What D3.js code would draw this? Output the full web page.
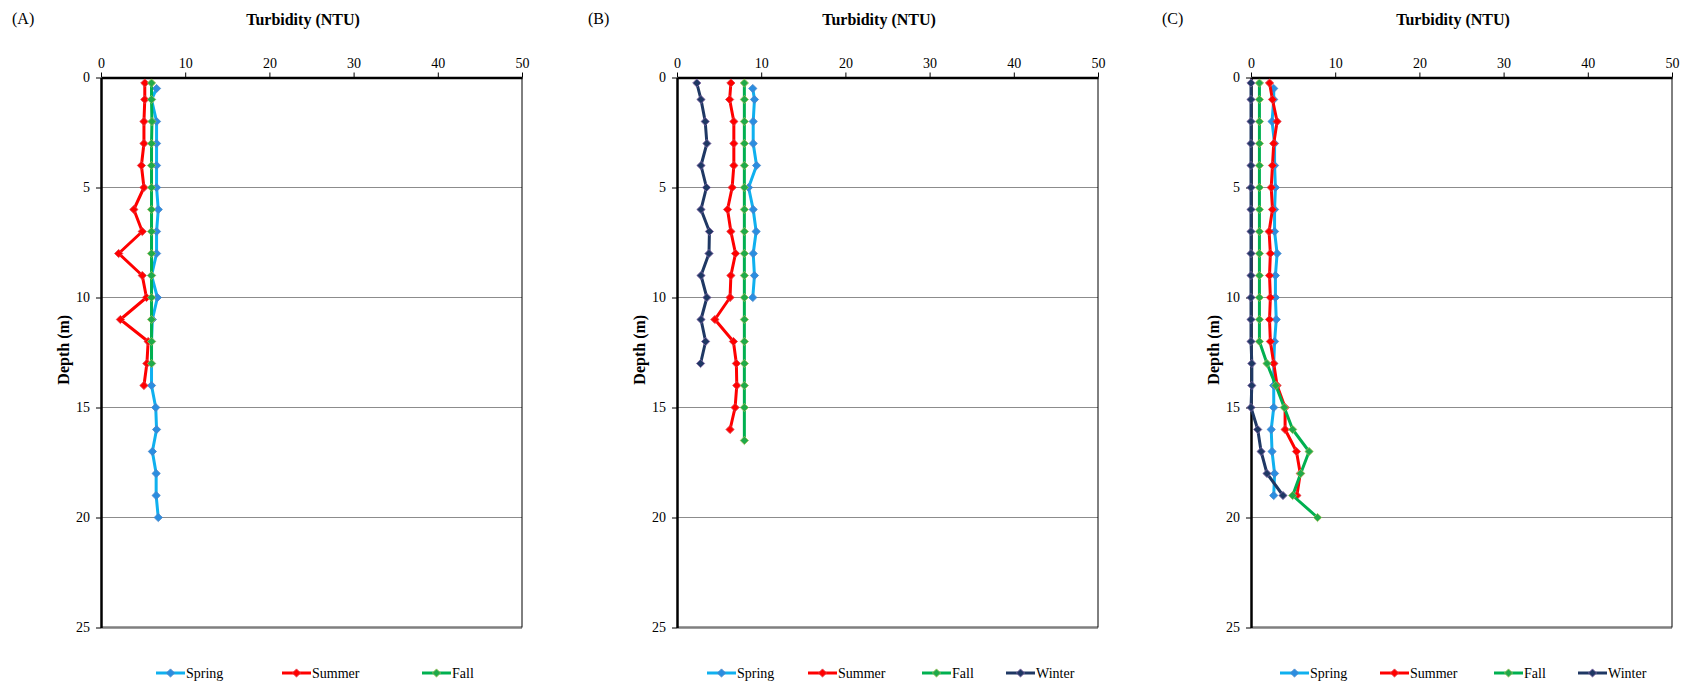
<!DOCTYPE html>
<html>
<head>
<meta charset="utf-8">
<script src="https://cdn.jsdelivr.net/npm/d3@7"></script>
<style>
  body { margin: 0; background: #fff; }
  svg text { font-family: "Liberation Serif", "Times New Roman", Times, "DejaVu Serif", serif !important; fill: #000; }
</style>
</head>
<body>
<div id="chart"></div>
<script>
// ---- data (depth in m, turbidity in NTU) ----
let springDepthA = [0.5, 1, 2, 3, 4, 5, 6, 7, 8, 9, 10, 11, 12, 13, 14, 15, 16, 17, 18, 19, 20];
let springA = [6.6, 6.0, 6.6, 6.6, 6.6, 6.6, 6.8, 6.6, 6.6, 6.0, 6.7, 6.1, 6.0, 6.0, 6.0, 6.5, 6.6, 6.1, 6.55, 6.55, 6.8];
let summerDepthA = [0.25, 1, 2, 3, 4, 5, 6, 7, 8, 9, 10, 11, 12, 13, 14];
let summerA = [5.2, 5.2, 5.1, 5.1, 4.8, 5.1, 3.9, 4.9, 2.1, 4.9, 5.4, 2.3, 5.6, 5.45, 5.1];
let fallDepthA = [0.25, 1, 2, 3, 4, 5, 6, 7, 8, 9, 10, 11, 12, 13];
let fallA = [6.0, 6.0, 6.05, 6.0, 6.0, 6.0, 6.0, 6.0, 6.0, 6.0, 6.0, 6.0, 6.0, 6.0];

let springDepthB = [0.5, 1, 2, 3, 4, 5, 6, 7, 8, 9, 10];
let springB = [9.0, 9.2, 9.05, 9.05, 9.45, 8.5, 9.05, 9.4, 9.05, 9.2, 9.0];
let summerDepthB = [0.25, 1, 2, 3, 4, 5, 6, 7, 8, 9, 10, 11, 12, 13, 14, 15, 16];
let summerB = [6.4, 6.25, 6.75, 6.75, 6.75, 6.55, 6.0, 6.4, 6.95, 6.4, 6.3, 4.5, 6.7, 7.05, 7.1, 6.9, 6.3];
let fallDepthB = [0.25, 1, 2, 3, 4, 5, 6, 7, 8, 9, 10, 11, 12, 13, 14, 15, 16.5];
let fallB = [8.0, 8.0, 8.0, 8.0, 8.0, 8.0, 8.0, 8.0, 8.0, 8.0, 8.0, 8.0, 8.0, 8.0, 8.0, 8.0, 8.0];
let winterDepthB = [0.25, 1, 2, 3, 4, 5, 6, 7, 8, 9, 10, 11, 12, 13];
let winterB = [2.35, 2.85, 3.35, 3.55, 2.85, 3.5, 2.85, 3.85, 3.8, 2.85, 3.55, 2.85, 3.4, 2.8];

let springDepthC = [0.5, 1, 2, 3, 4, 5, 6, 7, 8, 9, 10, 11, 12, 13, 14, 15, 16, 17, 18, 19];
let springC = [2.7, 2.7, 2.5, 2.8, 2.8, 2.9, 2.8, 2.8, 3.1, 2.9, 2.9, 3.0, 2.8, 2.7, 2.7, 2.7, 2.4, 2.5, 2.8, 2.7];
let summerDepthC = [0.25, 1, 2, 3, 4, 5, 6, 7, 8, 9, 10, 11, 12, 13, 14, 15, 16, 17, 18, 19];
let summerC = [2.2, 2.55, 3.1, 2.7, 2.55, 2.4, 2.55, 2.15, 2.3, 2.2, 2.3, 2.2, 2.3, 2.7, 3.1, 4.05, 4.05, 5.4, 5.85, 5.45];
let fallDepthC = [0.25, 1, 2, 3, 4, 5, 6, 7, 8, 9, 10, 11, 12, 13, 14, 15, 16, 17, 18, 19, 20];
let fallC = [1.0, 1.0, 1.0, 1.0, 1.0, 1.0, 1.0, 1.0, 1.0, 1.0, 1.0, 1.0, 1.0, 1.9, 2.95, 3.95, 4.95, 6.9, 5.9, 4.95, 7.9];
let winterDepthC = [0.25, 1, 2, 3, 4, 5, 6, 7, 8, 9, 10, 11, 12, 13, 14, 15, 16, 17, 18, 19];
let winterC = [0, 0, 0, 0, 0, 0, 0, 0, 0, 0, 0, 0, 0, 0.1, 0.1, 0, 0.8, 1.2, 1.9, 3.8];

let xTicks = [0, 10, 20, 30, 40, 50];
let yTicks = [0, 5, 10, 15, 20, 25];
let panelLabels = ["(A)", "(B)", "(C)"];
let xTitle = "Turbidity (NTU)";
let yTitle = "Depth (m)";

let serif = "'Liberation Serif', 'Times New Roman', Times, 'DejaVu Serif', serif";

// season styles
let seasonStyle = {
  Spring: { line: "#0fb0ef", fill: "#2b8de0", stroke: "#4a86c8" },
  Summer: { line: "#ff0000", fill: "#ff0000", stroke: "#e0404a" },
  Fall:   { line: "#00b050", fill: "#1faa4a", stroke: "#9bbb59" },
  Winter: { line: "#1f3864", fill: "#1f3864", stroke: "#7e64a2" }
};

let panels = [
  { label: panelLabels[0], left: 101, legendX: [55, 181, 321], series: [
      { name: "Spring", depth: springDepthA, value: springA },
      { name: "Summer", depth: summerDepthA, value: summerA },
      { name: "Fall", depth: fallDepthA, value: fallA } ] },
  { label: panelLabels[1], left: 677, legendX: [30, 131, 245, 329], series: [
      { name: "Spring", depth: springDepthB, value: springB },
      { name: "Summer", depth: summerDepthB, value: summerB },
      { name: "Fall", depth: fallDepthB, value: fallB },
      { name: "Winter", depth: winterDepthB, value: winterB } ] },
  { label: panelLabels[2], left: 1251, legendX: [29, 129, 243, 327], series: [
      { name: "Spring", depth: springDepthC, value: springC },
      { name: "Summer", depth: summerDepthC, value: summerC },
      { name: "Fall", depth: fallDepthC, value: fallC },
      { name: "Winter", depth: winterDepthC, value: winterC } ] }
];

let svgWidth = 1688;
let svgHeight = 684;
let plotTop = 77.5;
let plotHeight = 550;
let plotWidth = 421;

let svg = d3.select("#chart")
  .append("svg")
  .attr("width", svgWidth)
  .attr("height", svgHeight)
  .attr("font-family", serif);

let diamond = d3.symbol().type(d3.symbolSquare).size(34);

panels.forEach(function(p) {
  let x = d3.scaleLinear().domain([0, 50]).range([0, plotWidth]);
  let y = d3.scaleLinear().domain([0, 25]).range([0, plotHeight]);

  let g = svg.append("g")
    .attr("transform", `translate(${p.left}, ${plotTop})`);

  // panel label and title
  svg.append("text")
    .attr("x", p.left - 89)
    .attr("y", 24)
    .attr("font-family", serif)
    .style("font-size", "16px")
    .text(p.label);

  svg.append("text")
    .attr("x", p.left + 202)
    .attr("y", 24.5)
    .attr("text-anchor", "middle")
    .attr("font-family", serif)
    .style("font-size", "16px")
    .style("font-weight", "bold")
    .text(xTitle);

  // gridlines
  g.selectAll(".grid")
    .data(yTicks.filter(d => d > 0 && d < 25))
    .enter()
    .append("line")
    .attr("x1", 0)
    .attr("x2", plotWidth)
    .attr("y1", d => y(d))
    .attr("y2", d => y(d))
    .attr("stroke", "#8c8c8c")
    .attr("stroke-width", 1);

  // bottom and right border
  g.append("line")
    .attr("x1", 0).attr("x2", plotWidth)
    .attr("y1", plotHeight).attr("y2", plotHeight)
    .attr("stroke", "#7f7f7f")
    .attr("stroke-width", 2.5);
  g.append("line")
    .attr("x1", plotWidth).attr("x2", plotWidth)
    .attr("y1", 0).attr("y2", plotHeight)
    .attr("stroke", "#000")
    .attr("stroke-width", 1);

  // axes
  let topAxis = d3.axisTop(x).tickValues(xTicks).tickSize(5).tickSizeOuter(0);
  let leftAxis = d3.axisLeft(y).tickValues(yTicks).tickSize(5).tickSizeOuter(0);

  let xAxis = g.append("g").call(topAxis).attr("font-family", serif);
  xAxis.select(".domain").attr("stroke-width", 2.5);
  xAxis.selectAll(".tick line").attr("stroke-width", 1);
  xAxis.selectAll("text")
    .style("font-size", "14px")
    .attr("y", -10);

  let yAxis = g.append("g").call(leftAxis).attr("font-family", serif);
  yAxis.select(".domain").attr("stroke-width", 2.5);
  yAxis.selectAll(".tick line").attr("stroke-width", 1);
  yAxis.selectAll("text")
    .style("font-size", "14px")
    .attr("x", -11);

  // y title
  g.append("text")
    .attr("transform", `translate(-32, ${plotHeight * 0.495}) rotate(-90)`)
    .attr("text-anchor", "middle")
    .attr("font-family", serif)
    .style("font-size", "16px")
    .style("font-weight", "bold")
    .text(yTitle);

  // series
  let line = d3.line()
    .x(d => x(d.v))
    .y(d => y(d.d));

  p.series.forEach(function(s) {
    let st = seasonStyle[s.name];
    let pts = s.depth.map((d, i) => ({ d: d, v: s.value[i] }));
    g.append("path")
      .datum(pts)
      .attr("d", line)
      .attr("fill", "none")
      .attr("stroke", st.line)
      .attr("stroke-width", 3)
      .attr("stroke-linejoin", "round");
    g.selectAll(null)
      .data(pts)
      .enter()
      .append("path")
      .attr("d", diamond)
      .attr("transform", d => `translate(${x(d.v)}, ${y(d.d)}) rotate(45)`)
      .attr("fill", st.fill)
      .attr("stroke", st.stroke)
      .attr("stroke-width", 0.8);
  });

  // legend
  let legend = svg.append("g")
    .attr("transform", `translate(${p.left}, 673)`);
  p.series.forEach(function(s, i) {
    let st = seasonStyle[s.name];
    let lx = p.legendX[i];
    legend.append("line")
      .attr("x1", lx).attr("x2", lx + 29)
      .attr("y1", 0).attr("y2", 0)
      .attr("stroke", st.line)
      .attr("stroke-width", 3);
    legend.append("path")
      .attr("d", diamond)
      .attr("transform", `translate(${lx + 14.5}, 0) rotate(45)`)
      .attr("fill", st.fill)
      .attr("stroke", st.stroke)
      .attr("stroke-width", 0.8);
    legend.append("text")
      .attr("x", lx + 30)
      .attr("y", 5)
      .attr("font-family", serif)
      .style("font-size", "14px")
      .text(s.name);
  });
});
</script>
</body>
</html>
